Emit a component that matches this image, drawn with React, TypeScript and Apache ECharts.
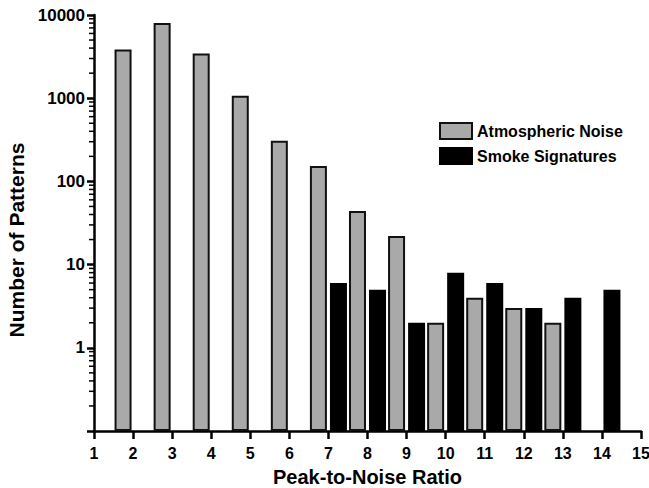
import React, { useEffect, useRef } from "react";
import * as echarts from "echarts";

// Histogram bins (start of each unit-wide bin on the Peak-to-Noise Ratio axis)
const noiseBins = [1, 2, 3, 4, 5, 6, 7, 8, 9, 10, 11, 12];
const noiseValues = [3850, 8000, 3450, 1070, 307, 153, 44, 22, 2, 4, 3, 2];
const smokeBins = [7, 8, 9, 10, 11, 12, 13, 14];
const smokeValues = [6, 5, 2, 8, 6, 3, 4, 5];

const xTicks = [1, 2, 3, 4, 5, 6, 7, 8, 9, 10, 11, 12, 13, 14, 15];
const yTickLabels = ["1", "10", "100", "1000", "10000"];
const minorMultipliers = [2, 3, 4, 5, 6, 7, 8, 9];
const decades = [0.1, 1, 10, 100, 1000];

const FONT = "'Liberation Sans', Arial, sans-serif";

export default function App() {
  const ref = useRef<HTMLDivElement>(null);
  useEffect(() => {
    if (!ref.current) return;
    const chart = echarts.init(ref.current, undefined, { renderer: "svg" });
    const minorData: number[][] = [];
    decades.forEach((d) =>
      minorMultipliers.forEach((m) => minorData.push([xTicks[0], +(d * m).toPrecision(3)]))
    );
    chart.setOption({
      animation: false,
      backgroundColor: "#ffffff",
      grid: { left: 94, right: 8, top: 15, bottom: 57, containLabel: false, outerBoundsMode: "none" },
      legend: {
        data: ["Atmospheric Noise", "Smoke Signatures"],
        orient: "vertical",
        left: 434,
        top: 117,
        itemWidth: 32,
        itemHeight: 16,
        itemGap: 7,
        icon: "rect",
        textStyle: { fontFamily: FONT, fontWeight: "bold", fontSize: 16, color: "#000" },
      },
      xAxis: {
        type: "value",
        min: xTicks[0],
        max: xTicks[xTicks.length - 1],
        interval: 1,
        name: "Peak-to-Noise Ratio",
        nameLocation: "middle",
        nameGap: 36,
        nameTextStyle: { fontFamily: FONT, fontWeight: "bold", fontSize: 20, color: "#000" },
        axisLine: { lineStyle: { color: "#000", width: 2.5 } },
        axisTick: { length: 8, lineStyle: { color: "#000", width: 2.5 } },
        axisLabel: { margin: 14, fontFamily: FONT, fontWeight: "bold", fontSize: 16, color: "#000" },
        splitLine: { show: false },
      },
      yAxis: {
        type: "log",
        logBase: 10,
        min: 0.1,
        max: 10000,
        startValue: 0.1,
        name: "Number of Patterns",
        nameLocation: "middle",
        nameGap: 58,
        nameTextStyle: { fontFamily: FONT, fontWeight: "bold", fontSize: 21, color: "#000", padding: [0, 34, 0, 0] },
        axisLine: { lineStyle: { color: "#000", width: 2.5 } },
        axisTick: { length: 7, lineStyle: { color: "#000", width: 2.5 } },
        axisLabel: {
          margin: 9,
          fontFamily: FONT,
          fontWeight: "bold",
          fontSize: 17,
          color: "#000",
          formatter: (v: number) => {
            const s = String(Math.round(v));
            return v >= 1 && yTickLabels.includes(s) ? s : "";
          },
        },
        splitLine: { show: false },
      },
      series: [
        {
          name: "Smoke Signatures",
          type: "bar",
          barWidth: 17,
          barGap: "12%",
          data: smokeBins.map((b, i) => [b + 0.5, smokeValues[i]]),
          itemStyle: { color: "#000", borderColor: "#000", borderWidth: 2 },
        },
        {
          name: "Atmospheric Noise",
          type: "bar",
          barWidth: 17,
          barGap: "12%",
          data: noiseBins.map((b, i) => [b + 0.5, noiseValues[i]]),
          itemStyle: { color: "#a9a9a9", borderColor: "#111", borderWidth: 2 },
        },
        {
          name: "minorTicks",
          type: "custom",
          silent: true,
          clip: false,
          data: minorData,
          renderItem: (_params: any, api: any) => {
            const p = api.coord([api.value(0), api.value(1)]);
            return {
              type: "line",
              shape: { x1: p[0] - 5, y1: p[1], x2: p[0], y2: p[1] },
              style: { stroke: "#000", lineWidth: 1.5 },
            };
          },
        },
      ],
    });
    return () => chart.dispose();
  }, []);
  return <div ref={ref} style={{ width: 649, height: 488, position: "absolute", left: 0, top: 0 }} />;
}
